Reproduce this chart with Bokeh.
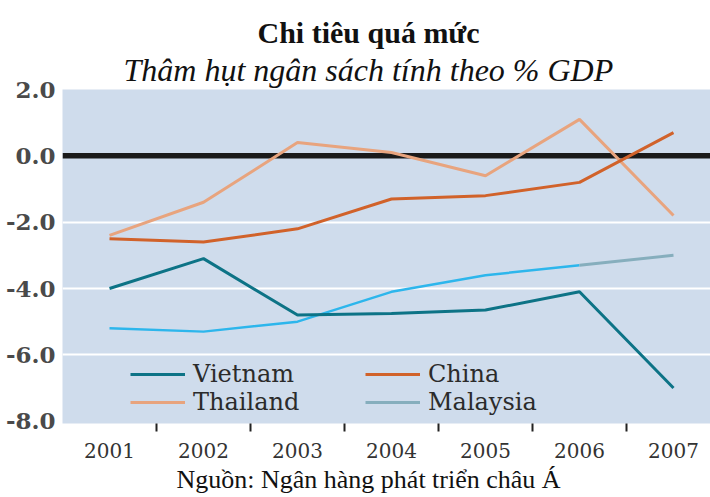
from bokeh.plotting import figure
from bokeh.models import (Range1d, FixedTicker, PrintfTickFormatter, Span, Legend,
                          LegendItem, Title)
from bokeh.embed import file_html
from bokeh.resources import INLINE

years = [2001, 2002, 2003, 2004, 2005, 2006, 2007]
year_labels = ["2001", "2002", "2003", "2004", "2005", "2006", "2007"]
vietnam = [-4.0, -3.1, -4.8, -4.75, -4.65, -4.1, -7.0]
china = [-2.5, -2.6, -2.2, -1.3, -1.2, -0.8, 0.7]
thailand = [-2.4, -1.4, 0.4, 0.1, -0.6, 1.1, -1.8]
malaysia = [-5.2, -5.3, -5.0, -4.1, -3.6, -3.3, -3.0]
y_ticks = [-8, -6, -4, -2, 0, 2]

C_VN = "#0d7386"
C_CN = "#d1622a"
C_TH = "#e8a47e"
C_MY = "#86aebd"
C_MY_BRIGHT = "#2db6ec"

p = figure(width=710, height=497, output_backend="svg", toolbar_location=None,
           x_range=Range1d(2000.5, 2000.5 + 648 / 94), y_range=Range1d(-8.07, 2.0),
           min_border_left=62, min_border_right=0, min_border_top=89, min_border_bottom=74)
p.background_fill_color = "#cfdcec"
p.border_fill_color = "white"
p.outline_line_color = None

# titles (first added sits closest to the plot)
sub = Title(text="Thâm hụt ngân sách tính theo % GDP", align="left", offset=61,
            text_font="Liberation Serif", text_font_style="italic",
            text_font_size="32px", text_color="#111111", standoff=3)
main = Title(text="Chi tiêu quá mức", align="left", offset=195,
             text_font="Liberation Serif", text_font_style="bold",
             text_font_size="30px", text_color="#111111", standoff=0)
p.add_layout(sub, "above")
p.add_layout(main, "above")

# axes
p.xaxis.ticker = FixedTicker(ticks=years, minor_ticks=[y + 0.5 for y in years[:-1]])
p.xaxis.major_label_overrides = {y: l for y, l in zip(years, year_labels)}
p.xaxis.axis_line_color = None
p.xaxis.major_tick_line_color = None
p.xaxis.major_tick_out = 0
p.xaxis.major_tick_in = 0
p.xaxis.minor_tick_line_color = "#222222"
p.xaxis.minor_tick_line_width = 2
p.xaxis.minor_tick_out = 8
p.xaxis.minor_tick_in = 0
p.xaxis.major_label_standoff = 11
p.xaxis.major_label_text_font = "DejaVu Serif"
p.xaxis.major_label_text_font_size = "20px"
p.xaxis.major_label_text_color = "#333333"

p.yaxis.ticker = FixedTicker(ticks=y_ticks)
p.yaxis.formatter = PrintfTickFormatter(format="%.1f")
p.yaxis.axis_line_color = None
p.yaxis.major_tick_line_color = None
p.yaxis.minor_tick_line_color = None
p.yaxis.major_tick_out = 0
p.yaxis.major_label_standoff = 7
p.yaxis.major_label_text_font = "DejaVu Serif"
p.yaxis.major_label_text_font_style = "bold"
p.yaxis.major_label_text_font_size = "23px"
p.yaxis.major_label_text_color = "#4a4a4a"

p.xgrid.grid_line_color = None
p.ygrid.ticker = FixedTicker(ticks=[-6, -4, -2])
p.ygrid.grid_line_color = "white"
p.ygrid.grid_line_width = 2

p.add_layout(Span(location=0, dimension="width", line_color="#1a1a1a",
                  line_width=5.5, level="underlay"))

# data lines
r_my1 = p.line(years[:6], malaysia[:6], line_color=C_MY_BRIGHT, line_width=2.5)
r_my2 = p.line(years[5:], malaysia[5:], line_color=C_MY, line_width=3)
r_th = p.line(years, thailand, line_color=C_TH, line_width=3)
r_cn = p.line(years, china, line_color=C_CN, line_width=3)
r_vn = p.line(years, vietnam, line_color=C_VN, line_width=3)

lg = {"Vietnam": r_vn, "China": r_cn, "Thailand": r_th, "Malaysia": r_my2}

def mk_legend(names, loc):
    leg = Legend(items=[LegendItem(label=n, renderers=[lg[n]]) for n in names],
                 location=loc, orientation="vertical")
    leg.background_fill_alpha = 0
    leg.border_line_color = None
    leg.padding = 0
    leg.margin = 0
    leg.spacing = 0
    leg.glyph_width = 55
    leg.glyph_height = 28
    leg.label_height = 28
    leg.label_standoff = 8
    leg.label_text_font = "DejaVu Serif"
    leg.label_text_font_size = "24px"
    leg.label_text_color = "#2b2b2b"
    return leg

p.add_layout(mk_legend(["Vietnam", "Thailand"], (68, 7)))
p.add_layout(mk_legend(["China", "Malaysia"], (303, 7)))

src = Title(text="Nguồn: Ngân hàng phát triển châu Á", align="left", offset=114,
            text_font="Liberation Serif", text_font_style="normal",
            text_font_size="26px", text_color="#111111", standoff=5)
p.add_layout(src, "below")

open("out.html", "w").write(file_html(p, INLINE))
